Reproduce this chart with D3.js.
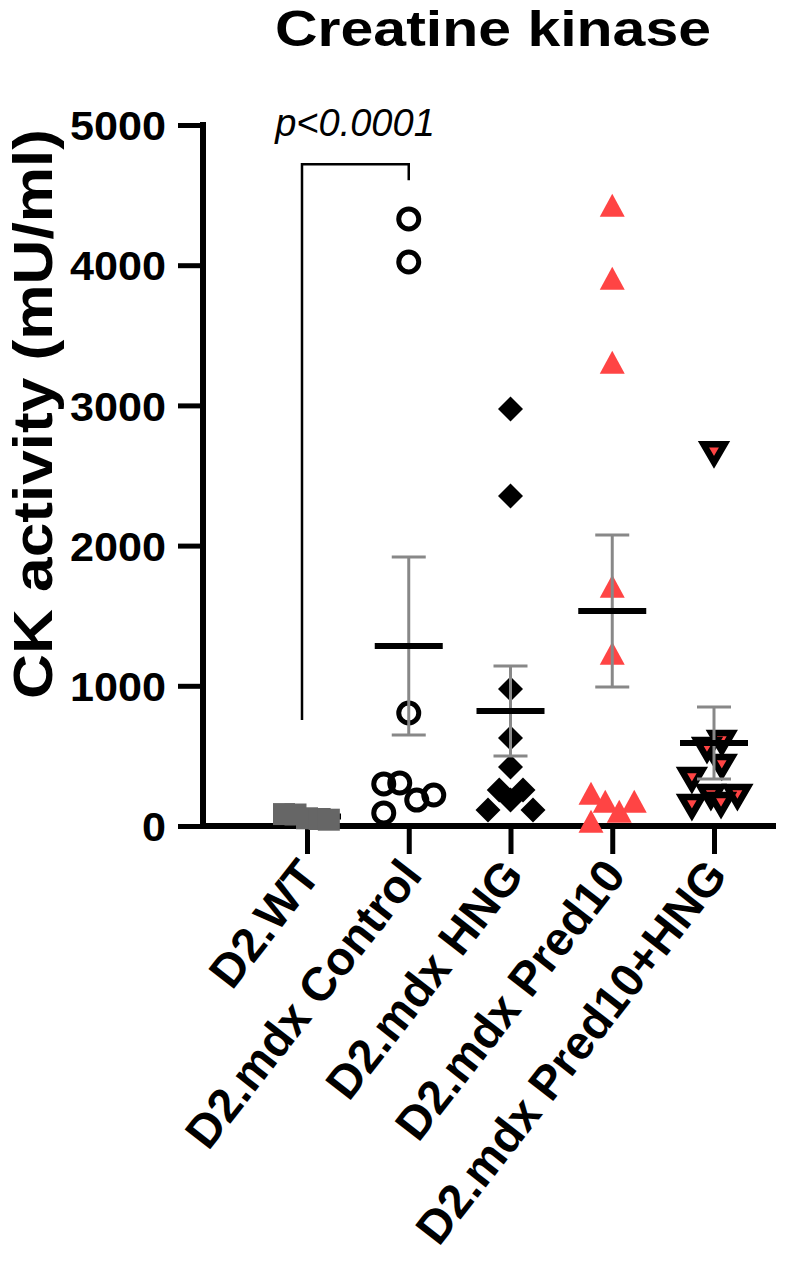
<!DOCTYPE html>
<html>
<head>
<meta charset="utf-8">
<script src="https://cdn.jsdelivr.net/npm/d3@7"></script>
<style>
  body { margin: 0; background: #fff; }
  svg { display: block; }
  text { font-family: "Liberation Sans", Arial, sans-serif; font-weight: bold; fill: #000; }
</style>
</head>
<body>
<div id="chart"></div>
<script>
// Groups
const categories = ["D2.WT", "D2.mdx Control", "D2.mdx HNG", "D2.mdx Pred10", "D2.mdx Pred10+HNG"];

// Individual values (mU/ml)
const wtValues = [85, 82, 55, 50, 45];
const controlValues = [4330, 4023, 806, 300, 307, 185, 221, 93];
const hngValues = [2974, 2354, 977, 628, 421, 257, 257, 185, 114, 114];
const pred10Values = [4400, 3880, 3280, 1683, 1205, 207, 150, 78, 150, 7];
const pred10HngValues = [2680, 620, 570, 450, 357, 235, 235, 178, 164];

// horizontal scatter of the dots, in marker widths
const wtJitter = [-1.0, -0.5, 0, 0.55, 0.95];
const controlJitter = [0, 0, 0, -1.0, -0.36, 0.32, 1.0, -1.0];
const hngJitter = [0, 0, 0, 0, 0, -0.45, 0.5, 0, -0.9, 0.9];
const pred10Jitter = [0, 0, 0, 0, 0, -0.85, -0.28, 0.28, 0.88, -0.85];
const pred10HngJitter = [0, 0.3, -0.27, 0.3, -0.85, -0.12, 0.9, 0.27, -0.85];

// mean and SEM of each group
const means = [68, 1284, 820, 1533, 592];
const sems = [8, 635, 321, 542, 257];

const yTicks = [0, 1000, 2000, 3000, 4000, 5000];
const pLabel = "p<0.0001";

const width = 787, height = 1268;
const svg = d3.select("#chart").append("svg")
  .attr("width", width)
  .attr("height", height);

const x = d3.scalePoint()
  .domain(categories)
  .range([307, 714]);

const y = d3.scaleLinear()
  .domain([0, 5000])
  .range([826, 125]);

// Title
svg.append("text")
  .attr("x", 493)
  .attr("y", 46)
  .attr("text-anchor", "middle")
  .attr("textLength", 436)
  .attr("lengthAdjust", "spacingAndGlyphs")
  .style("font-size", "50px")
  .text("Creatine kinase");

// Y axis title
svg.append("text")
  .attr("transform", "translate(52,414) rotate(-90)")
  .attr("text-anchor", "middle")
  .attr("textLength", 570)
  .attr("lengthAdjust", "spacingAndGlyphs")
  .style("font-size", "56px")
  .text("CK activity (mU/ml)");

// Y axis
const yAxis = svg.append("g")
  .attr("transform", "translate(203,0)")
  .call(d3.axisLeft(y).tickValues(yTicks).tickSize(25).tickPadding(12).tickFormat(d3.format("d")));
yAxis.select(".domain").attr("d", "M0," + (y(5000) - 3) + "V" + (y(0) + 3))
  .attr("stroke", "#000").attr("stroke-width", 6);
yAxis.selectAll(".tick line").attr("stroke", "#000").attr("stroke-width", 5);
yAxis.selectAll(".tick text")
  .style("font-family", "'Liberation Sans', Arial, sans-serif")
  .style("font-weight", "bold")
  .style("font-size", "41px")
  .attr("textLength", d => String(d).length * 24)
  .attr("lengthAdjust", "spacingAndGlyphs")
  .attr("dy", "0.36em");

// X axis
const xAxis = svg.append("g")
  .attr("transform", "translate(0,826)")
  .call(d3.axisBottom(x).tickSize(28).tickFormat(""));
xAxis.select(".domain").attr("d", "M200,0H776")
  .attr("stroke", "#000").attr("stroke-width", 6);
xAxis.selectAll(".tick line").attr("stroke", "#000").attr("stroke-width", 5);

// X labels, rotated
svg.append("g").selectAll("text")
  .data(categories).enter()
  .append("text")
  .attr("text-anchor", "end")
  .attr("transform", d => "translate(" + (x(d) + 15) + ",876) rotate(-52)")
  .style("font-size", "47px")
  .text(d => d);

// marker shapes
const triUp = (w, h) => "M0," + (-2 * h / 3) + "L" + (w / 2) + "," + (h / 3) + "L" + (-w / 2) + "," + (h / 3) + "Z";
const triDown = (w, h) => "M0," + (2 * h / 3) + "L" + (w / 2) + "," + (-h / 3) + "L" + (-w / 2) + "," + (-h / 3) + "Z";
const diamond = r => "M0," + (-r) + "L" + r + ",0L0," + r + "L" + (-r) + ",0Z";
const square = s => "M" + (-s / 2) + "," + (-s / 2) + "h" + s + "v" + s + "h" + (-s) + "Z";

const groups = [
  { cat: categories[0], values: wtValues, jitter: wtJitter, step: 23, path: square(22), fill: "#666666", stroke: "none", sw: 0 },
  { cat: categories[1], values: controlValues, jitter: controlJitter, step: 25, path: d3.symbol(d3.symbolCircle, Math.PI * 100)(), fill: "none", stroke: "#000", sw: 5 },
  { cat: categories[2], values: hngValues, jitter: hngJitter, step: 25, path: diamond(12.5), fill: "#000", stroke: "none", sw: 0 },
  { cat: categories[3], values: pred10Values, jitter: pred10Jitter, step: 25, path: triUp(25, 23), fill: "#FF4444", stroke: "none", sw: 0 },
  { cat: categories[4], values: pred10HngValues, jitter: pred10HngJitter, step: 26, path: triDown(21, 18), fill: "#FF4444", stroke: "#000", sw: 6.5 }
];

function drawDots(g) {
  svg.append("g").selectAll("path")
    .data(g.values).enter()
    .append("path")
    .attr("d", g.path)
    .attr("transform", (d, i) => "translate(" + (x(g.cat) + g.jitter[i] * g.step) + "," + y(d) + ")")
    .attr("fill", g.fill)
    .attr("stroke", g.stroke)
    .attr("stroke-width", g.sw)
    .attr("stroke-linejoin", "miter");
}

// Dots (WT squares sit on top of their own mean line, drawn last)
groups.slice(1).forEach(drawDots);

// SEM error bars
const eb = svg.append("g").attr("stroke", "#888888").attr("stroke-width", 3);
categories.forEach((c, i) => {
  const cx = x(c);
  eb.append("line").attr("x1", cx).attr("x2", cx).attr("y1", y(means[i] + sems[i])).attr("y2", y(means[i] - sems[i]));
  eb.append("line").attr("x1", cx - 17).attr("x2", cx + 17).attr("y1", y(means[i] + sems[i])).attr("y2", y(means[i] + sems[i]));
  eb.append("line").attr("x1", cx - 17).attr("x2", cx + 17).attr("y1", y(means[i] - sems[i])).attr("y2", y(means[i] - sems[i]));
});

// Mean lines
svg.append("g").selectAll("line")
  .data(means).enter()
  .append("line")
  .attr("x1", (d, i) => x(categories[i]) - 34)
  .attr("x2", (d, i) => x(categories[i]) + 34)
  .attr("y1", d => y(d))
  .attr("y2", d => y(d))
  .attr("stroke", "#000")
  .attr("stroke-width", 6);

drawDots(groups[0]);

// Significance bracket WT vs Control
const bx1 = x(categories[0]) - 5, bx2 = x(categories[1]);
svg.append("path")
  .attr("d", "M" + bx1 + "," + y(756) + "V" + y(4720) + "H" + bx2 + "V" + y(4606))
  .attr("fill", "none")
  .attr("stroke", "#000")
  .attr("stroke-width", 2.5);

svg.append("text")
  .attr("x", 355)
  .attr("y", 136)
  .attr("text-anchor", "middle")
  .style("font-weight", "normal")
  .style("font-style", "italic")
  .style("font-size", "38px")
  .text(pLabel);
</script>
</body>
</html>
